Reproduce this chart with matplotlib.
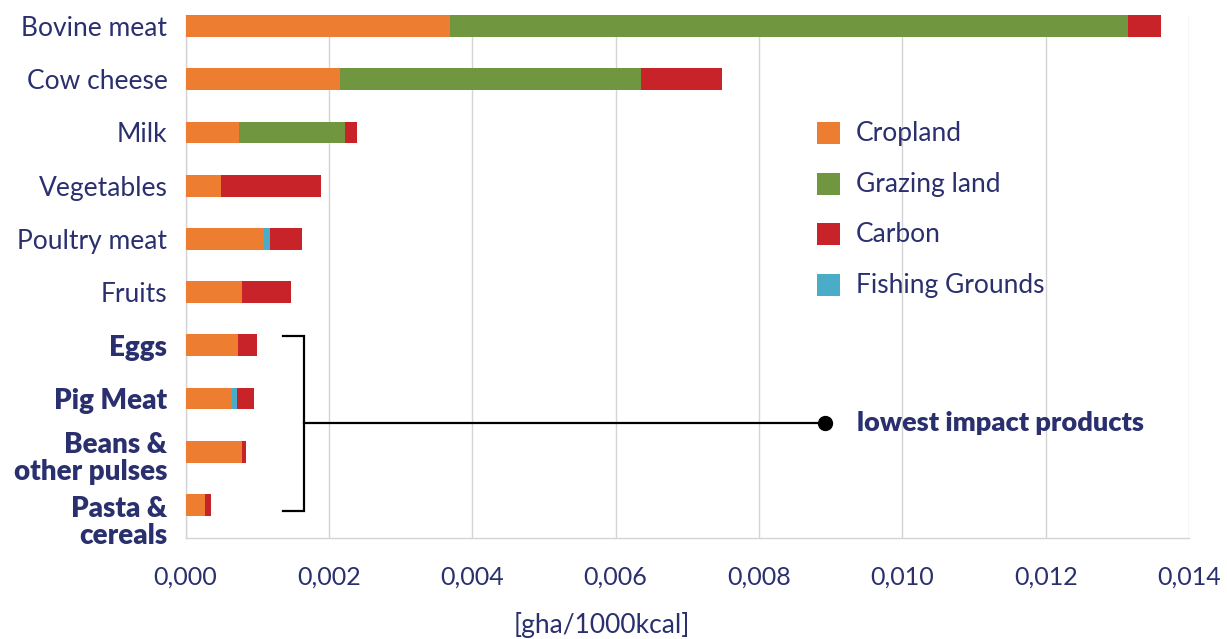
import matplotlib
matplotlib.use("Agg")
import matplotlib.pyplot as plt
from matplotlib.patches import Rectangle
from matplotlib.transforms import ScaledTranslation

# Food products (top to bottom) and land footprint components [gha/1000kcal]
products = ["Bovine meat", "Cow cheese", "Milk", "Vegetables", "Poultry meat",
            "Fruits", "Eggs", "Pig Meat", "Beans &\nother pulses", "Pasta &\ncereals"]
cropland = [0.00369, 0.00215, 0.00075, 0.00050, 0.00109,
            0.00079, 0.00073, 0.00065, 0.00079, 0.00027]
grazing = [0.00946, 0.00420, 0.00147, 0.0, 0.0,
           0.0, 0.0, 0.0, 0.0, 0.0]
fishing = [0.0, 0.0, 0.0, 0.0, 0.00009,
           0.0, 0.0, 0.00007, 0.0, 0.0]
carbon = [0.00046, 0.00113, 0.00017, 0.00139, 0.00044,
          0.00068, 0.00027, 0.00024, 0.00005, 0.00008]
bold_products = ["Eggs", "Pig Meat", "Beans &\nother pulses", "Pasta &\ncereals"]
xticks = [0.000, 0.002, 0.004, 0.006, 0.008, 0.010, 0.012, 0.014]
legend_labels = ["Cropland", "Grazing land", "Carbon", "Fishing Grounds"]

C_CROP = "#ED7D31"
C_GRAZ = "#70973F"
C_CARB = "#C9232A"
C_FISH = "#4AACC6"
NAVY = "#2A2F6E"
FONT = "Lato"

W, H = 1227, 639
fig = plt.figure(figsize=(W / 100, H / 100), dpi=100)
ax = fig.add_axes([185.5 / W, (H - 538) / H, (1189 - 185.5) / W, (538 - 15) / H])

y = list(range(len(products)))
bh = 0.41
left = [0.0] * len(products)
for vals, col in [(cropland, C_CROP), (grazing, C_GRAZ), (fishing, C_FISH), (carbon, C_CARB)]:
    ax.barh(y, vals, left=left, height=bh, color=col, zorder=3, linewidth=0)
    left = [l + v for l, v in zip(left, vals)]

ax.set_xlim(0, 0.014)
ax.set_ylim(9.62, -0.207)
ax.set_xticks(xticks)
ax.set_xticklabels([f"{t:.3f}".replace(".", ",") for t in xticks],
                   fontsize=18, color=NAVY, family=FONT)
ax.tick_params(axis="x", length=0, pad=20)
ax.tick_params(axis="y", length=0, pad=13)
ax.set_yticks(y)
ax.set_yticklabels(products, fontsize=19, color=NAVY, family=FONT, linespacing=1.05)
for lab in ax.get_yticklabels():
    if lab.get_text() in bold_products:
        lab.set_fontweight("heavy")
        lab.set_fontsize(20)
    if lab.get_text().startswith("Pasta"):
        lab.set_transform(lab.get_transform() + ScaledTranslation(0, -14 / 100, fig.dpi_scale_trans))
    if lab.get_text().startswith("Beans"):
        lab.set_transform(lab.get_transform() + ScaledTranslation(0, -4 / 100, fig.dpi_scale_trans))

ax.grid(axis="x", color="#d4d4d4", linewidth=1.0, zorder=0)
ax.set_axisbelow(True)
for s in ["top", "right"]:
    ax.spines[s].set_visible(False)
for s in ["left", "bottom"]:
    ax.spines[s].set_color("#d4d4d4")
    ax.spines[s].set_linewidth(1.0)

ax.set_xlabel("[gha/1000kcal]", fontsize=19, color=NAVY, family=FONT, va="center")
ax.xaxis.set_label_coords((602 - 185.5) / (1189 - 185.5), (538 - 625) / (538 - 15))

# Bracket grouping the lowest impact products
bx0, bx1, yt, yb, ym, xdot = 0.00136, 0.00165, 5.83, 9.12, 7.46, 0.00892
ax.plot([bx0, bx1, bx1, bx0], [yt, yt, yb, yb], color="black", lw=1.6, zorder=4,
        solid_joinstyle="miter")
ax.plot([bx1, xdot], [ym, ym], color="black", lw=1.6, zorder=4)
ax.plot([xdot], [ym], "o", color="black", markersize=10, zorder=5)
ax.text(0.00937, ym, "lowest impact products", fontsize=19.5, fontweight="heavy",
        color=NAVY, family=FONT, va="center", ha="left", zorder=5)

# Legend drawn in pixel positions
def fx(px):
    return px / W

def fy(py):
    return (H - py) / H

for lbl, col, cy in zip(legend_labels, [C_CROP, C_GRAZ, C_CARB, C_FISH], [133, 184, 234, 285]):
    fig.add_artist(Rectangle((fx(817), fy(cy + 11)), 23 / W, 22 / H,
                             transform=fig.transFigure, color=col, lw=0))
    fig.text(fx(856), fy(cy), lbl, fontsize=19, color=NAVY, family=FONT,
             va="center", ha="left")

fig.savefig("out.png", dpi=100)
